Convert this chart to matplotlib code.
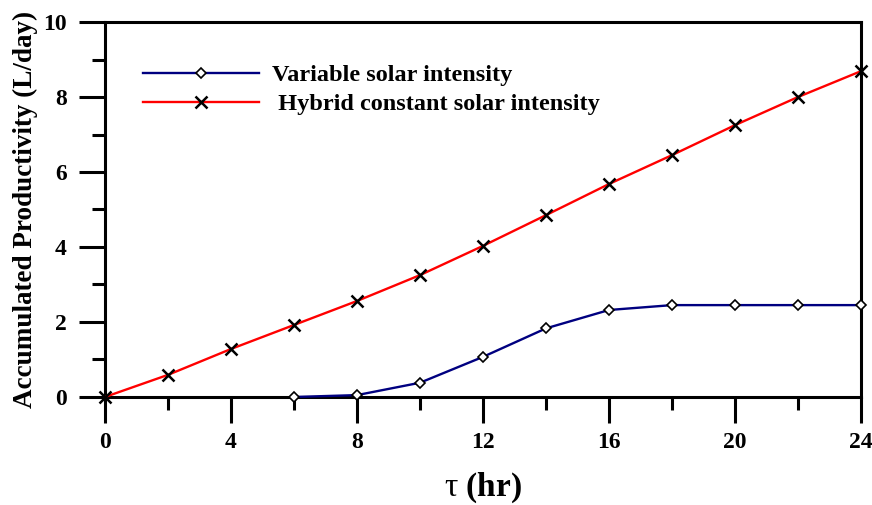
import matplotlib
matplotlib.use('Agg')
import matplotlib.pyplot as plt
from matplotlib.ticker import MultipleLocator

plt.rcParams['font.family'] = 'Liberation Serif'
plt.rcParams['font.weight'] = 'bold'
plt.rcParams['mathtext.fontset'] = 'custom'
plt.rcParams['mathtext.rm'] = 'Liberation Serif:weight=normal'

# data
hours = [0, 2, 4, 6, 8, 10, 12, 14, 16, 18, 20, 22, 24]
hybrid = [0.0, 0.59, 1.28, 1.92, 2.56, 3.25, 4.03, 4.85, 5.68, 6.45, 7.25, 8.0, 8.69]
hours_var = [6, 8, 10, 12, 14, 16, 18, 20, 22, 24]
variable = [0.0, 0.05, 0.38, 1.07, 1.83, 2.32, 2.45, 2.45, 2.45, 2.45]

fig = plt.figure(figsize=(8.72, 5.05), dpi=100)
ax = fig.add_axes([0.1204, 0.2139, 0.867, 0.7425])

ax.plot(hours_var, variable, color='#000080', linewidth=1.7, marker='D', markersize=5.5,
        markerfacecolor='white', markeredgecolor='black', markeredgewidth=1.2,
        label='Variable solar intensity', clip_on=False, zorder=3)
ax.plot(hours, hybrid, color='red', linewidth=1.7, marker='x', markersize=8.5,
        markeredgecolor='black', markeredgewidth=1.8,
        label=' Hybrid constant solar intensity', clip_on=False, zorder=4)

ax.set_xlim(0, 24)
ax.set_ylim(0, 10)
ax.xaxis.set_major_locator(MultipleLocator(4))
ax.xaxis.set_minor_locator(MultipleLocator(2))
ax.yaxis.set_major_locator(MultipleLocator(2))
ax.yaxis.set_minor_locator(MultipleLocator(1))

for s in ax.spines.values():
    s.set_linewidth(2.2)
ax.tick_params(which='major', direction='out', length=18.5, width=2.2, labelsize=17, pad=7)
ax.tick_params(which='minor', direction='out', length=9.5, width=2.2)
ax.tick_params(axis='y', which='major', pad=9)
for lbl in ax.get_xticklabels() + ax.get_yticklabels():
    lbl.set_fontweight('bold')

# tau drawn in regular weight, the rest bold, as in the original
ax.set_xlabel(r'$\mathrm{\tau}$ (hr)', fontsize=24, fontweight='bold', labelpad=12)
ax.set_ylabel('Accumulated Productivity (L/day)', fontsize=19.5, fontweight='bold', labelpad=4)

ax.legend(loc='upper left', bbox_to_anchor=(0.05, 0.888), frameon=False,
          borderaxespad=0, borderpad=0, handlelength=4.8, handletextpad=0.5,
          prop={'size': 17.5, 'weight': 'bold'}, labelspacing=0.3)

fig.savefig('out.png', dpi=100)
